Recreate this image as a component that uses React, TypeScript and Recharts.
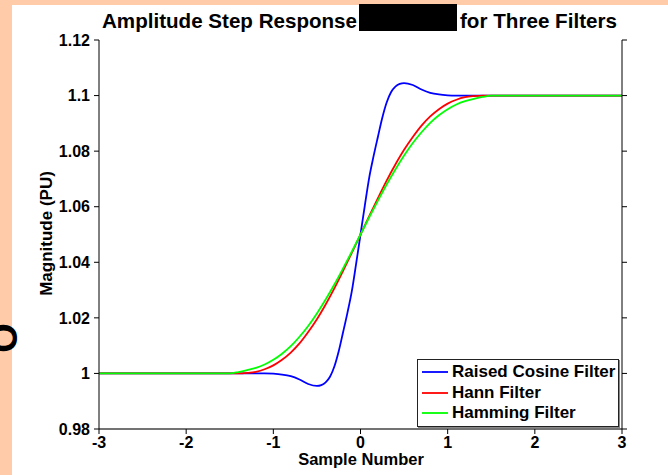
import React from 'react';
import { LineChart, Line, XAxis, YAxis, Legend } from 'recharts';

const FONT = '"Liberation Sans", Arial, Helvetica, sans-serif';

// Axis ticks
const xTicks = [-3, -2, -1, 0, 1, 2, 3];
const yTicks = [0.98, 1, 1.02, 1.04, 1.06, 1.08, 1.1, 1.12];

// Raised Cosine Filter (blue)
const blueX = [-3, -2, -1.5, -1.2, -1.1, -1.0, -0.9, -0.8, -0.7, -0.6, -0.5, -0.45, -0.4, -0.35, -0.3, -0.25, -0.2, -0.15, -0.1, -0.05, 0, 0.05, 0.1, 0.15, 0.2, 0.25, 0.3, 0.35, 0.4, 0.45, 0.5, 0.6, 0.7, 0.8, 0.9, 1.0, 1.1, 1.2, 1.5, 2, 3];
const blueY = [1, 1, 1, 1, 1, 0.9999, 0.9996, 0.999, 0.9978, 0.9962, 0.9955, 0.9958, 0.9968, 0.9988, 1.0025, 1.008, 1.0148, 1.0218, 1.0295, 1.0395, 1.05, 1.0605, 1.0705, 1.0782, 1.0852, 1.092, 1.0975, 1.1012, 1.1032, 1.1042, 1.1045, 1.1038, 1.1022, 1.101, 1.1004, 1.1001, 1.1, 1.1, 1.1, 1.1, 1.1];

// Hann / Hamming (shared x grid)
const winX = [-3, -2, -1.5, -1.4, -1.3, -1.2, -1.1, -1.0, -0.9, -0.8, -0.7, -0.6, -0.5, -0.4, -0.3, -0.2, -0.1, 0, 0.1, 0.2, 0.3, 0.4, 0.5, 0.6, 0.7, 0.8, 0.9, 1.0, 1.1, 1.2, 1.3, 1.4, 1.5, 2, 3];
const hannY = [1, 1, 1, 1.0, 1.0002, 1.0006, 1.0015, 1.0029, 1.0049, 1.0075, 1.0108, 1.0149, 1.0195, 1.0248, 1.0306, 1.0369, 1.0434, 1.05, 1.0566, 1.0631, 1.0694, 1.0752, 1.0805, 1.0851, 1.0892, 1.0925, 1.0951, 1.0971, 1.0985, 1.0994, 1.0998, 1.1, 1.1, 1.1, 1.1];
const hammingY = [1, 1, 1, 1.0005, 1.0012, 1.002, 1.0032, 1.0049, 1.0071, 1.0098, 1.0132, 1.0171, 1.0216, 1.0266, 1.032, 1.0378, 1.0438, 1.05, 1.0562, 1.0622, 1.068, 1.0734, 1.0784, 1.0829, 1.0868, 1.0902, 1.0929, 1.0951, 1.0968, 1.098, 1.0988, 1.0995, 1.1, 1.1, 1.1];

const seriesNames = ['Raised Cosine Filter', 'Hann Filter', 'Hamming Filter'];
const seriesColors = ['#0000FF', '#FF0000', '#00FF00'];

const blueData = blueX.map((x, i) => ({ x, y: blueY[i] }));
const hannData = winX.map((x, i) => ({ x, y: hannY[i] }));
const hammingData = winX.map((x, i) => ({ x, y: hammingY[i] }));

const tickStyle = { fill: '#000', fontSize: 16, fontWeight: 'bold' as const, fontFamily: FONT };
const emptyTick = () => <g />;

const LegendBox = () => (
  <div
    style={{
      width: 200,
      height: 64,
      border: '1px solid #222',
      boxShadow: '1px 1px 0 #888',
      background: '#fff',
      paddingTop: 2,
      boxSizing: 'content-box',
      fontFamily: FONT,
      fontWeight: 'bold',
      fontSize: 17,
      color: '#000',
    }}
  >
    {seriesNames.map((n, i) => (
      <div key={n} style={{ height: 20.5, lineHeight: '20.5px', display: 'flex', alignItems: 'center', whiteSpace: 'nowrap' }}>
        <svg width={34} height={20} style={{ flex: 'none' }}>
          <line x1={4} y1={10} x2={30} y2={10} stroke={seriesColors[i]} strokeWidth={1.8} />
        </svg>
        <span>{n}</span>
      </div>
    ))}
  </div>
);

export default function App() {
  return (
    <div style={{ position: 'absolute', left: 0, top: 0, width: 668, height: 475, background: '#FFCBA8', overflow: 'hidden' }}>
      <div style={{ position: 'absolute', left: 12, top: 5, width: 656, height: 470, background: '#fff' }} />
      <div style={{ position: 'absolute', left: 0, top: 0 }}>
        <LineChart width={668} height={475} margin={{ top: 40, right: 0, bottom: 0, left: 0 }}>
          <XAxis
            xAxisId="b"
            type="number"
            dataKey="x"
            domain={[-3, 3]}
            ticks={xTicks}
            orientation="bottom"
            height={46}
            tickSize={5}
            tickMargin={3}
            tick={tickStyle}
            axisLine={{ stroke: '#444', strokeWidth: 1.5 }}
            tickLine={{ stroke: '#000' }}
            allowDataOverflow
          />
          <XAxis
            xAxisId="t"
            type="number"
            dataKey="x"
            domain={[-3, 3]}
            ticks={xTicks}
            orientation="top"
            height={0}
            tickSize={5}
            tick={emptyTick}
            axisLine={{ stroke: '#333' }}
            tickLine={{ stroke: '#000' }}
            allowDataOverflow
          />
          <YAxis
            yAxisId="l"
            type="number"
            domain={[0.98, 1.12]}
            ticks={yTicks}
            orientation="left"
            width={99}
            tickSize={5}
            tickMargin={4}
            tick={tickStyle}
            tickFormatter={(v: number) => String(v)}
            axisLine={{ stroke: '#000' }}
            tickLine={{ stroke: '#000' }}
            allowDataOverflow
          />
          <YAxis
            yAxisId="r"
            type="number"
            domain={[0.98, 1.12]}
            ticks={yTicks}
            orientation="right"
            width={46}
            tickSize={5}
            tick={emptyTick}
            axisLine={{ stroke: '#000' }}
            tickLine={{ stroke: '#000' }}
            allowDataOverflow
          />
          <Legend
            layout="horizontal"
            verticalAlign="middle"
            align="center"
            content={() => <LegendBox />}
            wrapperStyle={{ left: 417, top: 359, width: 202, height: 66 }}
          />
          <Line xAxisId="b" yAxisId="l" data={blueData} dataKey="y" name={seriesNames[0]} type="monotone" stroke={seriesColors[0]} strokeWidth={1.8} dot={false} isAnimationActive={false} />
          <Line xAxisId="b" yAxisId="l" data={hannData} dataKey="y" name={seriesNames[1]} type="monotone" stroke={seriesColors[1]} strokeWidth={1.8} dot={false} isAnimationActive={false} />
          <Line xAxisId="b" yAxisId="l" data={hammingData} dataKey="y" name={seriesNames[2]} type="monotone" stroke={seriesColors[2]} strokeWidth={1.8} dot={false} isAnimationActive={false} />
        </LineChart>
      </div>
      <svg width={668} height={475} style={{ position: 'absolute', left: 0, top: 0, pointerEvents: 'none' }}>
        <text x={4} y={338} fontFamily={FONT} fontWeight="bold" fontSize={38} fill="#000" textAnchor="middle" transform="rotate(-90 4 338)" dy="0.35em">O</text>
        <rect x={359} y={4} width={98} height={27} fill="#000" />
        <text x={102} y={27.5} fontFamily={FONT} fontWeight="bold" fontSize={20.5} fill="#000" textLength={255} lengthAdjust="spacingAndGlyphs">Amplitude Step Response</text>
        <text x={460} y={27.5} fontFamily={FONT} fontWeight="bold" fontSize={20.5} fill="#000" textLength={157} lengthAdjust="spacingAndGlyphs">for Three Filters</text>
        <text x={52} y={233.5} fontFamily={FONT} fontWeight="bold" fontSize={17} fill="#000" textAnchor="middle" transform="rotate(-90 52 233.5)">Magnitude (PU)</text>
        <text x={361} y={465} fontFamily={FONT} fontWeight="bold" fontSize={16.5} fill="#000" textAnchor="middle">Sample Number</text>
      </svg>
    </div>
  );
}
